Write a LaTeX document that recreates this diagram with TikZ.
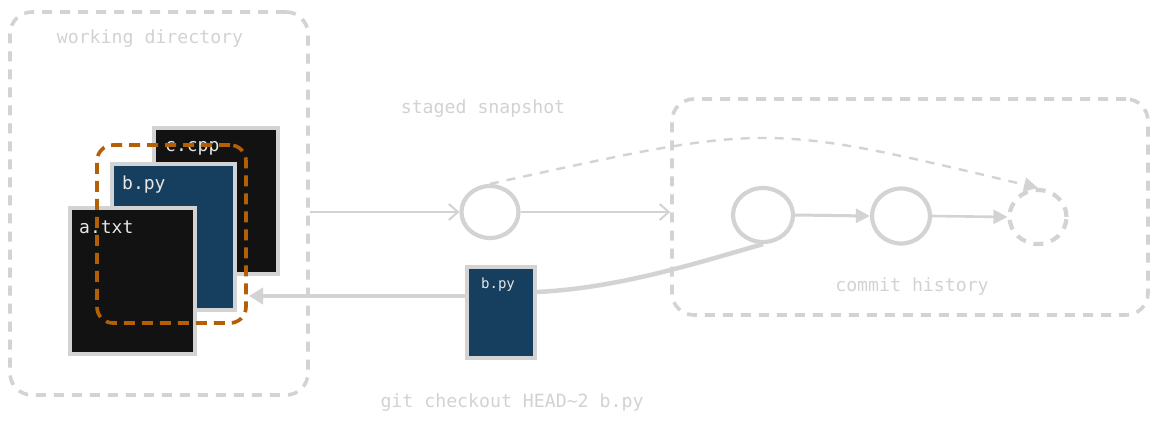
\documentclass[tikz,border=0pt]{standalone}
\usepackage{fontspec}
\setmonofont{DejaVu Sans Mono}
\usetikzlibrary{arrows.meta,shapes.geometric}
\definecolor{lg}{HTML}{D3D3D3}
\definecolor{tg}{HTML}{D2D2D2}
\definecolor{fblack}{HTML}{121212}
\definecolor{fblue}{HTML}{163F5F}
\definecolor{org}{HTML}{B45F06}
\definecolor{ftext}{HTML}{E6E6E6}
\begin{document}
\begin{tikzpicture}[x=1pt,y=-1pt,
  region/.style={draw=lg,line width=3.6pt,dash pattern=on 10pt off 8pt,rounded corners=22pt,inner sep=0pt},
  filebox/.style={draw=lg,line width=4pt,inner sep=0pt,anchor=north west},
  lbl/.style={text=tg,font=\ttfamily\fontsize{18.2}{20}\selectfont,inner sep=0pt},
  flbl/.style={text=ftext,font=\ttfamily\fontsize{18}{20}\selectfont,anchor=base west,inner sep=0pt},
  commit/.style={draw=lg,line width=4.2pt,ellipse,inner sep=0pt},
  openarr/.style={draw=lg,line width=2.6pt,-{Straight Barb[length=9pt,width=16pt,line width=2pt]}},
  fillarr/.style={draw=lg,line width=3pt,-{Triangle[length=14pt,width=14pt]}}
]
\useasboundingbox (0,0) rectangle (1159,424);

% working directory region
\node[region,minimum width=298pt,minimum height=383pt] (wd) at (159,203.5) {};
\node[lbl] (wdl) at (150,39) {working directory};

% files
\node[filebox,fill=fblack,minimum width=124pt,minimum height=146pt] (cf) at (152,126) {};
\node[flbl] (cfl) at (165,151) {c.cpp};
\node[filebox,fill=fblue,minimum width=123pt,minimum height=146pt] (bf) at (110,162) {};
\node[flbl] (bfl) at (122,189) {b.py};
\node[filebox,fill=fblack,minimum width=125pt,minimum height=146pt] (af) at (68,206) {};
\node[flbl] (afl) at (79,233) {a.txt};

% selection
\node[draw=org,line width=3.6pt,dash pattern=on 11pt off 7pt,rounded corners=16pt,
      minimum width=149pt,minimum height=178pt,inner sep=0pt] (sel) at (171.5,234) {};

% staged snapshot
\node[commit,minimum width=57pt,minimum height=52pt] (st) at (490,212) {};
\node[lbl] (stl) at (483,109) {staged snapshot};

% commit history region
\node[region,minimum width=476pt,minimum height=216pt] (ch) at (910,207) {};
\node[lbl] (chl) at (912,286) {commit history};
\node[commit,minimum width=60pt,minimum height=54pt] (c1) at (763,215) {};
\node[commit,minimum width=58pt,minimum height=55pt] (c2) at (901,216) {};
\node[commit,dash pattern=on 10pt off 8pt,minimum width=57pt,minimum height=54pt] (c3) at (1038,217) {};

% checkout file
\node[filebox,fill=fblue,minimum width=68pt,minimum height=91pt] (bp) at (465,265) {};
\node[text=ftext,font=\ttfamily\fontsize{14}{16}\selectfont,anchor=base,inner sep=0pt] (bpl) at (498,288) {b.py};
\node[lbl] (gcl) at (512,403) {git checkout HEAD\textasciitilde 2 b.py};

% connectors
\draw[openarr] (wd.east |- st.west) -- (st.west);
\draw[openarr] (st.east) -- (ch.west |- st.east);
\draw[fillarr] (c1.east) -- (c2.west);
\draw[fillarr,line width=2.6pt] (c2.east) -- (c3.west);
\draw[draw=lg,line width=2.4pt,dash pattern=on 9pt off 8pt,-{Triangle[length=14pt,width=14pt]}]
  (st.north) .. controls (768,123) and (762,122) .. (c3.north);
\coordinate (tip) at (249,296);
\draw[draw=lg,line width=4.5pt] (c1.south) .. controls (700,262) and (620,288) .. (bp.east |- 0,292);
\draw[draw=lg,line width=4.5pt,-{Triangle[length=14pt,width=16pt]}] (bp.west |- tip) -- (tip);
\end{tikzpicture}
\end{document}
